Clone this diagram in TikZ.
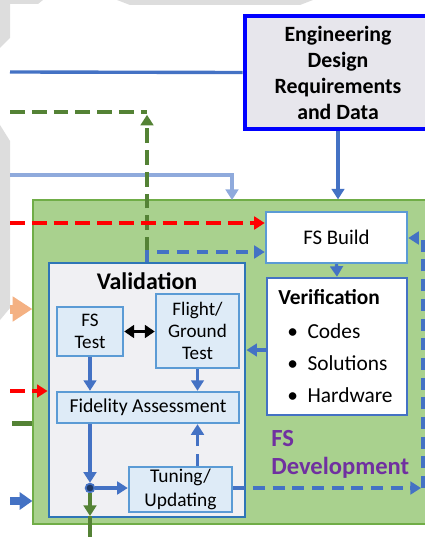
\documentclass[tikz,border=0pt]{standalone}
\usepackage{fontspec}
\setmainfont{Carlito}
\usetikzlibrary{arrows.meta}

\definecolor{edblue}{RGB}{0,0,255}
\definecolor{edfill}{RGB}{231,230,236}
\definecolor{midblue}{RGB}{68,114,196}
\definecolor{liteblue}{RGB}{143,170,220}
\definecolor{darkgreen}{RGB}{84,130,53}
\definecolor{devfill}{RGB}{169,209,142}
\definecolor{devedge}{RGB}{112,173,71}
\definecolor{valfill}{RGB}{240,240,243}
\definecolor{valedge}{RGB}{46,117,182}
\definecolor{boxfill}{RGB}{222,235,247}
\definecolor{boxedge}{RGB}{91,155,213}
\definecolor{devtext}{RGB}{112,48,160}
\definecolor{orangearr}{RGB}{244,177,131}
\definecolor{grayband}{RGB}{221,221,221}
\definecolor{jnfill}{RGB}{31,56,100}

\newcommand{\fsz}[2]{\fontsize{#1}{#2}\selectfont}

\tikzset{
  tip/.style={-{Triangle[length=7.5pt,width=9pt]}},
  conn/.style={draw=midblue, line width=2.4pt, tip},
  dconn/.style={conn, dash pattern=on 8.5pt off 5.5pt},
  reddash/.style={draw=red, line width=2.4pt, dash pattern=on 10.5pt off 5pt, tip},
  greendash/.style={draw=darkgreen, line width=2.4pt, dash pattern=on 10.5pt off 5pt},
  subbox/.style={draw=boxedge, fill=boxfill, line width=1.7pt, align=center, inner sep=0pt, font=\fsz{13.6}{15.5}},
}

\begin{document}
\begin{tikzpicture}[x=0.025cm, y=-0.025cm]
  \useasboundingbox (0,0) rectangle (425,537);
  \clip (0,0) rectangle (425,537);

  % grey bands of the figure behind
  \fill[grayband] (0,0) -- (43,0) -- (38,4) -- (10,4) -- (10,38) -- (0,48) -- cycle;
  \fill[grayband] (117,0) -- (313,0) -- (300,5) -- (130,5) -- cycle;
  \fill[grayband] (0,125) -- (10,141) -- (10,308) -- (0,320) -- cycle;

  % FS development area
  \node[draw=devedge, fill=devfill, line width=0.8pt, minimum width=9.925cm, minimum height=8.1cm] (dev) at (231.5,362) {};

  \node[draw=edblue, fill=edfill, line width=3.4pt, minimum width=4.65cm, minimum height=2.825cm,
        align=center, font=\bfseries\fsz{15.5}{18.5}] (edrd) at (338,72.5) {Engineering\\Design\\Requirements\\and Data};
  \node[draw=boxedge, fill=white, line width=1.7pt, minimum width=3.525cm, minimum height=1.275cm,
        font=\fsz{14.8}{16}] (build) at (336.5,237.5) {FS Build};
  \node[draw=midblue, fill=white, line width=1.7pt, minimum width=3.5cm, minimum height=3.425cm] (verif) at (337,346.5) {};
  \node[draw=valedge, fill=valfill, line width=2pt, minimum width=4.9cm, minimum height=6.35cm] (valid) at (147,390) {};

  \node[subbox, minimum width=1.65cm, minimum height=1.225cm] (fstest) at (90,331.5) {FS\\Test};
  \node[subbox, minimum width=2.075cm, minimum height=1.85cm] (flight) at (197.5,331) {Flight/\\Ground\\Test};
  \node[subbox, minimum width=4.55cm, minimum height=0.775cm, font=\fsz{14}{16}] (fidel) at (148,407.5) {Fidelity Assessment};
  \node[subbox, minimum width=2.575cm, minimum height=1.125cm, font=\fsz{13.8}{17}] (tuning) at (180.5,489.5) {Tuning/\\Updating};
  \node[circle, draw=midblue, fill=jnfill, line width=1.2pt, inner sep=0pt, minimum size=0.22cm] (jn) at (90,488) {};

  \node[font=\bfseries\fsz{17}{18}] (valtitle) at (147,281) {Validation};
  \node[anchor=west, inner sep=0pt, font=\bfseries\fsz{15.2}{17}] (veriftitle) at (278,297) {Verification};
  \foreach \y/\t in {331/Codes, 363/Solutions, 395/Hardware}
    \node[anchor=west, inner sep=0pt, font=\fsz{15.2}{16}] at (287,\y) {\textbullet\hspace{0.45em}\t};
  \node[anchor=north west, align=left, inner sep=0pt, text=devtext, font=\bfseries\fsz{17.5}{20}] (devlabel) at (271,430) {FS\\Development};

  % lines coming in from the left
  \coordinate (blin) at (10,72);
  \coordinate (gleft) at (10,112);
  \coordinate (gtop) at (147,112);
  \coordinate (turn) at (147,252);
  \coordinate (litein) at (10,175);
  \coordinate (liteend) at (232,200);
  \coordinate (redin) at (10,223);
  \coordinate (orin) at (10,309);
  \coordinate (red2) at (10,391);
  \coordinate (stubl) at (12,423.5);
  \coordinate (stubr) at (32,423.5);
  \coordinate (bluin) at (10,501);

  \draw[midblue, line width=2.4pt] (blin) -- (edrd.west);
  \draw[conn] (edrd.south) -- (edrd.south |- dev.north);
  \draw[liteblue, line width=2.2pt, tip] (litein) -| (liteend);
  \draw[greendash] (gleft) -- (gtop);
  \draw[greendash, tip, shorten >=2pt] (turn) -- (gtop);
  \draw[reddash] (redin) -- (redin -| build.west);
  \draw[dconn] (valid.north) -- (turn) -- (turn -| build.west);
  \draw[orangearr, line width=6.4pt, -{Triangle[length=14pt,width=17pt]}] (orin) -- (orin -| dev.west);
  \draw[reddash] (red2) -- (red2 -| valid.west);
  \draw[darkgreen, line width=4.2pt] (stubl) -- (stubr);
  \draw[midblue, line width=5.7pt, -{Triangle[length=9pt,width=12pt]}] (bluin) -- (bluin -| dev.west);

  % inside the development area
  \draw[conn] (build.south) -- (verif.north);
  \draw[conn] ([yshift=-2.5pt]verif.west) -- ([yshift=-2.5pt]verif.west -| valid.east);
  \draw[black, line width=2.4pt, {Triangle[length=7pt,width=9pt]}-{Triangle[length=7pt,width=9pt]}] (fstest.east) -- (fstest.east -| flight.west);
  \draw[conn] (fstest.south) -- (fstest.south |- fidel.north);
  \draw[conn] (flight.south) -- (flight.south |- fidel.north);
  \draw[conn] (fidel.south -| jn) -- (jn.north);
  \draw[conn] (jn.east) -- (tuning.west |- jn);
  \draw[dconn] (tuning.north -| flight.south) -- (flight.south |- fidel.south);

  \coordinate (rloop) at (421,488);
  \coordinate (rbot) at (423,488);
  \coordinate (rtop) at (423,238);
  \draw[dconn] (tuning.east |- jn) -- (rloop);
  \draw[dconn] (rbot) -- (rtop) -- (build.east |- rtop);

  \coordinate (gdown) at (90,516);
  \coordinate (gout) at (90,540);
  \draw[darkgreen, line width=2.4pt, tip] (jn.south) -- (gdown);
  \draw[darkgreen, line width=2.4pt] (gdown) -- (gout);
  %\draw[conn] (verif.south) -- (verif.south |- dev.south);
\end{tikzpicture}
\end{document}
